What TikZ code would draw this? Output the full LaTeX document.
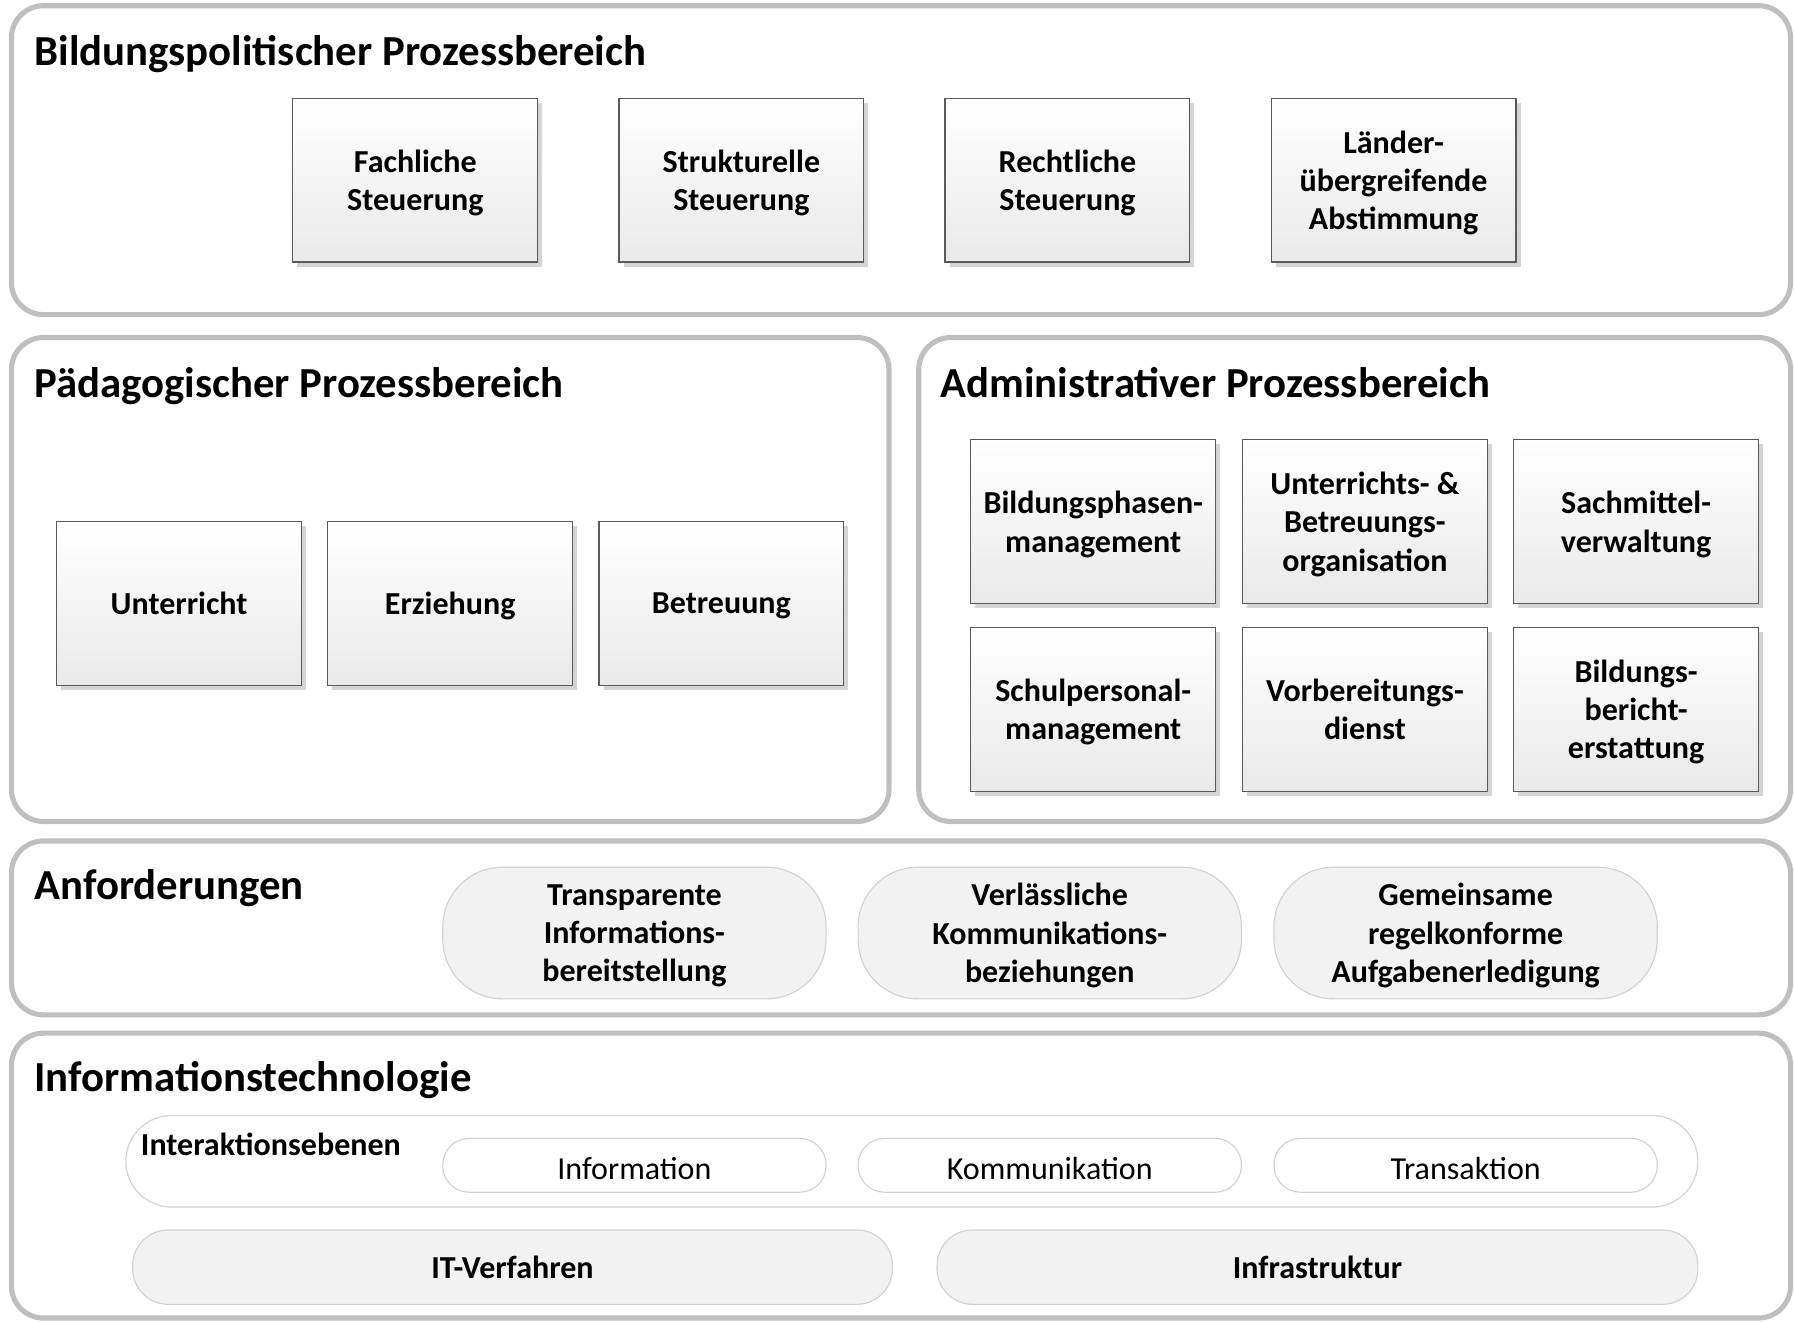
\documentclass[tikz,border=0pt]{standalone}
\usepackage{fontspec}
\setmainfont{Carlito}
\usetikzlibrary{shadows}

\definecolor{panelgray}{HTML}{BFBFBF}
\definecolor{boxline}{HTML}{5A5A5A}
\definecolor{boxshade}{HTML}{E9E9E9}
\definecolor{shadowgray}{HTML}{D4D4D4}
\definecolor{pillfill}{HTML}{F2F2F2}
\definecolor{pillline}{HTML}{D2D2D2}

\tikzset{
  panel/.style 2 args={draw=panelgray, line width=4.5pt, rounded corners=28pt,
    fill=white, inner sep=0pt, minimum width=#1, minimum height=#2},
  paneltitle/.style={anchor=base west, inner sep=0pt,
    font=\bfseries\fontsize{37.4}{44}\selectfont},
  procbox/.style={draw=boxline, line width=1pt, top color=white, bottom color=boxshade,
    general shadow={fill=shadowgray, shadow xshift=4pt, shadow yshift=-4pt},
    minimum width=214pt, minimum height=143pt, inner sep=0pt, align=center,
    text depth=0pt, font=\bfseries\fontsize{28}{33.5}\selectfont},
  reqpill/.style={draw=pillline, line width=1pt, fill=pillfill, rounded corners=52pt,
    minimum width=335pt, minimum height=115pt, inner sep=0pt, align=center,
    text depth=0pt, font=\bfseries\fontsize{28}{33.5}\selectfont},
  levelpill/.style={draw=pillline, line width=1pt, fill=white, rounded corners=23pt,
    minimum width=335pt, minimum height=47pt, inner sep=0pt,
    text height=24pt, text depth=0pt,
    font=\fontsize{28}{33.5}\selectfont},
  basepill/.style={draw=pillline, line width=1pt, fill=pillfill, rounded corners=31pt,
    minimum height=65pt, inner sep=0pt, text depth=0pt,
    font=\bfseries\fontsize{28}{33.5}\selectfont},
}

\begin{document}
\begin{tikzpicture}[x=1pt, y=-1pt]
\useasboundingbox (0,0) rectangle (1568,1155);

% --- frames of the five areas ---
\node[panel={1555pt}{270pt}] (pol)   at (787.5,140) {};
\node[panel={767pt}{423pt}]  (paed)  at (393.5,506.5) {};
\node[panel={762pt}{423pt}]  (adm)   at (1184,506.5) {};
\node[panel={1555pt}{152pt}] (anf)   at (787.5,811) {};
\node[panel={1555pt}{249pt}] (itech) at (787.5,1027.5) {};

\node[paneltitle] (polT)   at (30,57)  {Bildungspolitischer Prozessbereich};
\node[paneltitle] (paedT)  at (30,347) {Pädagogischer Prozessbereich};
\node[paneltitle] (admT)   at (822,347) {Administrativer Prozessbereich};
\node[paneltitle] (anfT)   at (30,786) {Anforderungen};
\node[paneltitle] (itechT) at (30,954) {Informationstechnologie};

% --- education policy ---
\node[procbox] (fach)  at (363,157.5)  {Fachliche\\Steuerung};
\node[procbox] (struk) at (648,157.5)  {Strukturelle\\Steuerung};
\node[procbox] (recht) at (933,157.5)  {Rechtliche\\Steuerung};
\node[procbox] (laend) at (1218,157.5) {Länder-\\übergreifende\\Abstimmung};

% --- pedagogy ---
\node[procbox] (unt)  at (156.5,527.5) {Unterricht};
\node[procbox] (erz)  at (393.5,527.5) {Erziehung};
\node[procbox] (betr) at (630.5,527.5) {Betreuung};

% --- administration ---
\node[procbox] (bpm)  at (955.5,456) {Bildungsphasen-\\management};
\node[procbox] (ubo)  at (1193,456)  {Unterrichts- \&\\Betreuungs-\\organisation};
\node[procbox] (smv)  at (1430,456)  {Sachmittel-\\verwaltung};
\node[procbox] (spm)  at (955.5,620) {Schulpersonal-\\management};
\node[procbox] (vbd)  at (1193,620)  {Vorbereitungs-\\dienst};
\node[procbox] (bbe)  at (1430,620)  {Bildungs-\\bericht-\\erstattung};

% --- requirements ---
\node[reqpill] (req1) at (554.5,815.5) {Transparente\\Informations-\\bereitstellung};
\node[reqpill] (req2) at (917.5,815.5) {Verlässliche\\Kommunikations-\\beziehungen};
\node[reqpill] (req3) at (1281,815.5)  {Gemeinsame\\regelkonforme\\Aufgabenerledigung};

% --- information technology ---
\node[draw=pillline, line width=1pt, fill=white, rounded corners=40pt,
      minimum width=1374pt, minimum height=80pt, inner sep=0pt] (levels) at (797,1015) {};
\node[anchor=base west, inner sep=0pt, font=\bfseries\fontsize{28}{33}\selectfont]
      (levelsT) at (123,1010) {Interaktionsebenen};
\node[levelpill] (lvInfo)  at (554.5,1018.5) {Information};
\node[levelpill] (lvKomm)  at (917.5,1018.5) {Kommunikation};
\node[levelpill] (lvTrans) at (1281,1018.5)  {Transaktion};

\node[basepill, minimum width=664pt] (itv)   at (448,1107.5)    {IT-Verfahren};
\node[basepill, minimum width=665pt] (infra) at (1151.5,1107.5) {Infrastruktur};
\end{tikzpicture}
\end{document}
